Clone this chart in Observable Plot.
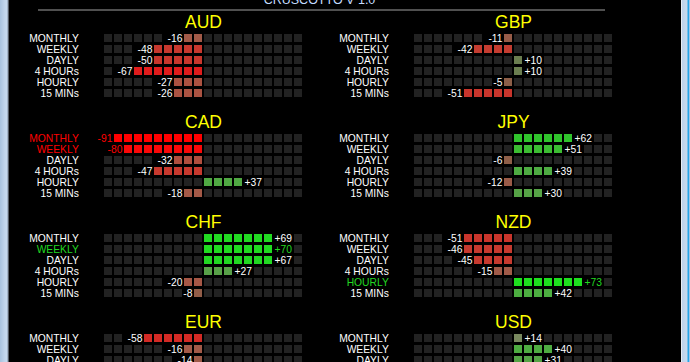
<!DOCTYPE html>
<html><head><meta charset="utf-8">
<script src="https://cdn.jsdelivr.net/npm/d3@7"></script>
<script src="https://cdn.jsdelivr.net/npm/@observablehq/plot@0.6"></script>
<style>
html,body{margin:0;padding:0;background:#000;overflow:hidden}
#wrap{position:relative;width:690px;height:362px;background:#000;overflow:hidden}
#chart{position:absolute;left:0;top:0}
#lb{position:absolute;left:0;top:0;width:9px;height:362px;background:linear-gradient(to right,#a8c2de 0px,#c2d6ec 5px,#c6d9ee 7px,#7f8ea0 8px,#2a2a2a 9px)}
#rb{position:absolute;left:681px;top:0;width:9px;height:362px;background:linear-gradient(to right,#e6edf5 0px,#e6edf5 1px,#bdd2ea 1px,#c8dbef 6px,#27a4e6 7px,#27a4e6 8px,#9cc6ec 8px)}
</style></head><body>
<div id="wrap"><div id="chart"></div><div id="lb"></div><div id="rb"></div></div>
<script>
const currencies = ["AUD","GBP","CAD","JPY","CHF","NZD","EUR","USD"];
const timeframes = ["MONTHLY","WEEKLY","DAYLY","4 HOURs","HOURLY","15 MINs"];
const strengthAUD = [-16,-48,-50,-67,-27,-26];
const strengthGBP = [-11,-42,10,10,-5,-51];
const strengthCAD = [-91,-80,-32,-47,37,-18];
const strengthJPY = [62,51,-6,39,-12,30];
const strengthCHF = [69,70,67,27,-20,-8];
const strengthNZD = [-51,-46,-45,-15,73,42];
const strengthEUR = [-58,-16,-14];
const strengthUSD = [14,40,31];
const litAUD = [2,5,5,7,3,3];
const litGBP = [1,4,1,1,1,5];
const litCAD = [9,8,3,5,4,2];
const litJPY = [6,5,1,4,1,3];
const litCHF = [7,7,7,3,2,1];
const litNZD = [5,5,4,2,7,4];
const litEUR = [6,2,1];
const litUSD = [1,4,3];
const headerTitle = "CRUSCOTTO V 1.0";

const strengths = [strengthAUD,strengthGBP,strengthCAD,strengthJPY,strengthCHF,strengthNZD,strengthEUR,strengthUSD];
const lits = [litAUD,litGBP,litCAD,litJPY,litCHF,litNZD,litEUR,litUSD];

const NCELL = 20, MID = 10, COLSTEP = 31, PANELSTEP = 100/11, CELLW = 0.8, CELLH = 8/11;
const panels = currencies.map((c,k)=>({c, xo:(k%2)*COLSTEP, yo:Math.floor(k/2)*PANELSTEP}));
const rows = [];
currencies.forEach((c,k)=>{
  const p = panels[k];
  strengths[k].forEach((v,r)=>{
    rows.push({c, tf:timeframes[r], v, n:lits[k][r], label:(v>0?"+":"")+v,
      xo:p.xo, yo:p.yo + r, strong:Math.abs(v)>=70});
  });
});
const cells = [];
for (const d of rows) {
  const hid = d.label.length - 1;
  for (let i=0;i<NCELL;i++){
    let state="empty";
    if (d.v<0){ if(i>=MID-d.n && i<MID) state="lit"; else if(i>=MID-d.n-hid && i<MID-d.n) state="hidden"; }
    else { if(i>=MID && i<MID+d.n) state="lit"; else if(i>=MID+d.n && i<MID+d.n+hid) state="hidden"; }
    cells.push({...d, i, x:d.xo+i, state});
  }
}
const font = "Liberation Sans, Arial, sans-serif";
const neg = rows.filter(d=>d.v<0), pos = rows.filter(d=>d.v>0);
const txt = (data, o) => Plot.text(data, {fontFamily:font, fontSize:10.3, ...o});

const chart = Plot.plot({
  width:690, height:362, margin:0,
  style:{background:"#000", color:"#fff", fontFamily:font},
  x:{domain:[-10.4,58.6], range:[0,690], axis:null},
  y:{domain:[-34/11, 328/11], range:[0,362], axis:null},
  color:{type:"linear", clamp:true, interpolate:"rgb",
    domain:[-91,-80,-67,-50,-42,-32,-16,-5,0,10,14,27,42,51,62,67,73],
    range:["#ff0000","#fa0808","#e01c1c","#c8372d","#c43c30","#b04e3e","#a25a48","#8c5e48","#886048","#6b7e50","#78885e","#58a048","#4cae40","#3cbc32","#30c42c","#22d822","#1ee01e"]},
  marks:[
    Plot.ruleY([-2.227], {x1:-6.6, x2:50.1, stroke:"#a0a0a0", strokeWidth:1}),
    Plot.text([headerTitle], {x:21.5, y:-2.73, text:d=>d, lineAnchor:"bottom", fill:"#c4dcff", fontSize:12.5, fontFamily:font}),
    Plot.rect(cells.filter(d=>d.state==="empty"), {x1:"x", x2:d=>d.x+CELLW, y1:"yo", y2:d=>d.yo+CELLH, fill:"#222222", shapeRendering:"crispEdges"}),
    Plot.rect(cells.filter(d=>d.state==="lit"), {x1:"x", x2:d=>d.x+CELLW, y1:"yo", y2:d=>d.yo+CELLH, fill:"v", shapeRendering:"crispEdges"}),
    Plot.text(panels, {x:d=>d.xo+9.9, y:d=>d.yo-1.07, text:"c", fill:"#ffff00", fontSize:17.5, fontFamily:font}),
    txt(rows.filter(d=>!d.strong), {x:d=>d.xo-2.57, y:d=>d.yo+0.34, text:"tf", textAnchor:"end", fill:"#ffffff"}),
    txt(rows.filter(d=>d.strong && d.v<0), {x:d=>d.xo-2.57, y:d=>d.yo+0.34, text:"tf", textAnchor:"end", fill:"#ff0000"}),
    txt(rows.filter(d=>d.strong && d.v>0), {x:d=>d.xo-2.57, y:d=>d.yo+0.34, text:"tf", textAnchor:"end", fill:"#22d822"}),
    txt(neg.filter(d=>!d.strong), {x:d=>d.xo+MID-d.n-0.2, y:d=>d.yo+0.34, text:"label", textAnchor:"end", fill:"#ffffff"}),
    txt(neg.filter(d=>d.strong), {x:d=>d.xo+MID-d.n-0.2, y:d=>d.yo+0.34, text:"label", textAnchor:"end", fill:"#ff0000"}),
    txt(pos.filter(d=>!d.strong), {x:d=>d.xo+MID+d.n, y:d=>d.yo+0.34, text:"label", textAnchor:"start", fill:"#ffffff"}),
    txt(pos.filter(d=>d.strong), {x:d=>d.xo+MID+d.n, y:d=>d.yo+0.34, text:"label", textAnchor:"start", fill:"#22d822"})
  ]
});
document.getElementById("chart").appendChild(chart);
</script></body></html>
